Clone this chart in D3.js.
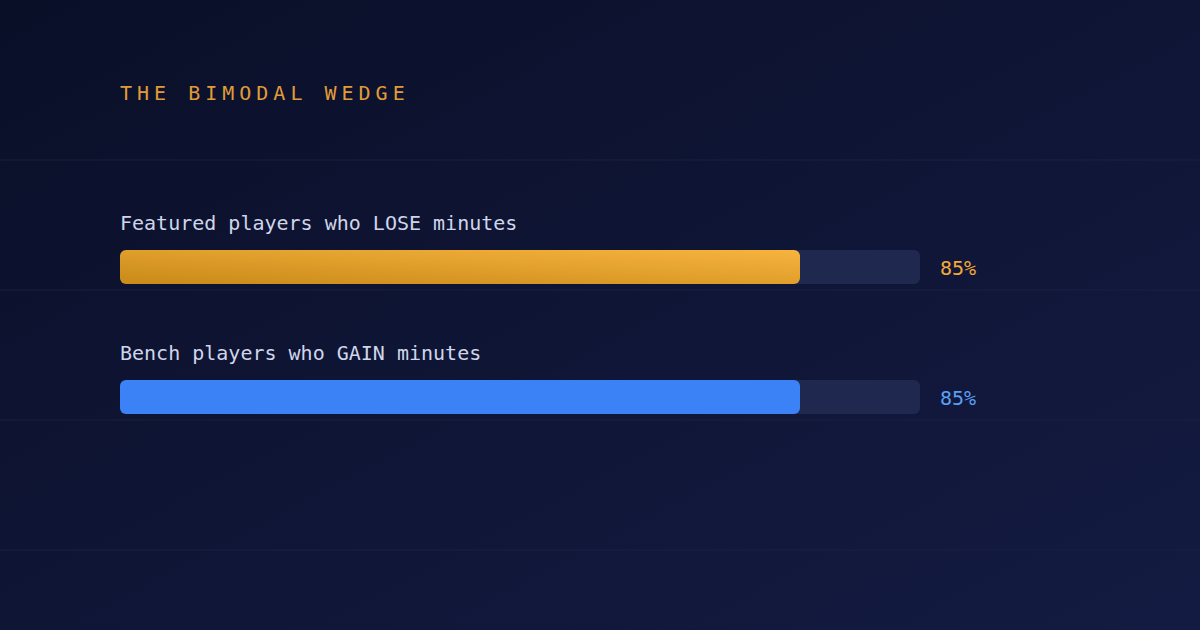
<!DOCTYPE html>
<html><head><meta charset="utf-8">
<script src="https://cdn.jsdelivr.net/npm/d3@7"></script>
<style>html,body{margin:0;padding:0;background:#0b1029;}svg{display:block;}</style>
</head><body>
<script>
const title = "THE BIMODAL WEDGE";
const categories = ["Featured players who LOSE minutes", "Bench players who GAIN minutes"];
const values = [85, 85];
const valueLabels = ["85%", "85%"];
const gridRows = [0, 1, 2, 3];

const W = 1200, H = 630;
const svg = d3.select("body").append("svg").attr("width", W).attr("height", H);
const defs = svg.append("defs");
const bg = defs.append("linearGradient").attr("id","bg").attr("x1","0").attr("y1","0").attr("x2","1").attr("y2","1");
bg.append("stop").attr("offset","0%").attr("stop-color","#0a0f28");
bg.append("stop").attr("offset","100%").attr("stop-color","#141b42");
const gold = defs.append("linearGradient").attr("id","gold").attr("x1","0").attr("y1","1").attr("x2","1").attr("y2","0");
gold.append("stop").attr("offset","0%").attr("stop-color","#c98a18");
gold.append("stop").attr("offset","100%").attr("stop-color","#f7b33e");

svg.append("rect").attr("width",W).attr("height",H).attr("fill","url(#bg)");

svg.selectAll(".grid").data(gridRows).join("line")
  .attr("x1",0).attr("x2",W)
  .attr("y1",d=>160+d*130).attr("y2",d=>160+d*130)
  .attr("stroke","#182040").attr("stroke-width",1.2);

const font = "'DejaVu Sans Mono', monospace";
svg.append("text").attr("x",120).attr("y",100).text(title)
  .attr("font-family",font).attr("font-size",20).attr("letter-spacing",5)
  .attr("fill","#e09c38");

const x = d3.scaleLinear().domain([0,100]).range([120,920]);
const y = d3.scaleBand().domain(categories).range([190, 450]);
const fills = ["url(#gold)", "#3b82f6"];
const valColors = ["#f5a936", "#5b9ff3"];

const g = svg.selectAll(".row").data(categories).join("g")
  .attr("transform", d=>`translate(0,${y(d)})`);
g.append("text").attr("x",120).attr("y",40).text(d=>d)
  .attr("font-family",font).attr("font-size",20).attr("fill","#cfd6ea");
g.append("rect").attr("x",x(0)).attr("y",60).attr("width",x(100)-x(0)).attr("height",34)
  .attr("rx",6).attr("fill","#1f284f");
g.append("rect").attr("x",x(0)).attr("y",60).attr("width",(d,i)=>x(values[i])-x(0)).attr("height",34)
  .attr("rx",6).attr("fill",(d,i)=>fills[i]);
g.append("text").attr("x",940).attr("y",85).text((d,i)=>valueLabels[i])
  .attr("font-family",font).attr("font-size",20).attr("fill",(d,i)=>valColors[i]);
</script>
</body></html>
